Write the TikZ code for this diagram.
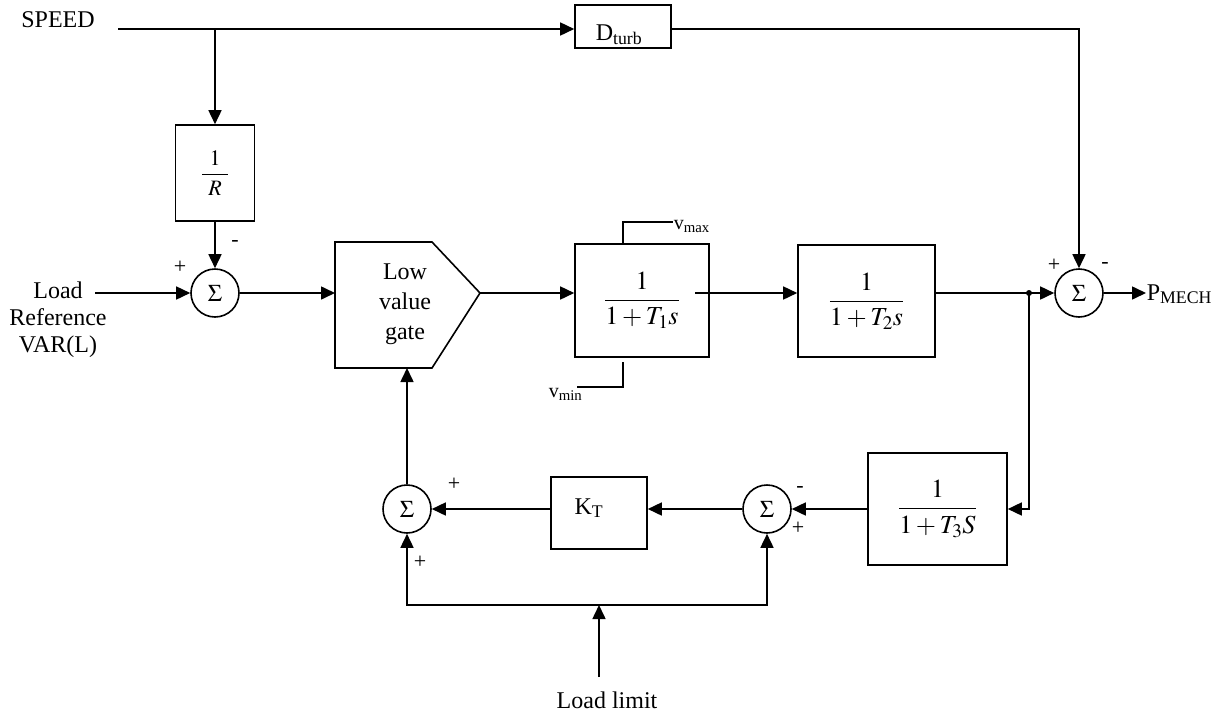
\documentclass[tikz,border=0pt]{standalone}
\usepackage{amsmath}
\usepackage{mathptmx}
\usepackage{fontspec}
\setmainfont{Liberation Serif}
\usetikzlibrary{arrows.meta,calc}

\tikzset{
  blk/.style={draw, inner sep=0pt},
  sumnode/.style={draw, circle, minimum size=48pt, inner sep=0pt, font=\fontsize{24}{24}\selectfont},
  sgn/.style={font=\fontsize{22}{22}\selectfont, inner sep=0pt},
  lbl/.style={font=\fontsize{24}{27}\selectfont, inner sep=0pt},
  lim/.style={font=\fontsize{20}{20}\selectfont, inner sep=0pt},
  tf/.style={font=\fontsize{26}{26}\selectfont}
}

\begin{document}
\begin{tikzpicture}[x=1pt, y=-1pt, line width=1.6pt, >={Triangle[length=14pt,width=13pt]}]
\useasboundingbox (0,0) rectangle (1215,715);

            % Speed input and droop.
            \node[lbl] (speed) at (58,20) {SPEED};
            \coordinate (spd-start) at (118,29);
            \coordinate (spd-tap) at (215,29);
            \node[blk, lbl, minimum width=96pt, minimum height=43pt, text height=27pt, text depth=0pt] (dturb) at (623,26.5) {D\textsubscript{turb}\hspace*{8pt}};
            \node[blk, minimum width=79pt, minimum height=96pt, font=\fontsize{22}{22}\selectfont] (invr) at (215,173) {$\dfrac{1}{\hspace{6pt}R\hspace{6pt}}$};
            \node[sumnode] (sum1) at (215,293) {$\Sigma$};
            \node[lbl, align=center] (lref) at (58,320) {Load\\Reference\\VAR(L)};
            \coordinate (lref-end) at (95,293);

            % Low value gate.
            \coordinate (gate-in) at (335,293);
            \coordinate (gate-tip) at (480,293);
            \coordinate (gate-bot) at (407,368);
            \draw (335,242) -- (432,242) -- (gate-tip) -- (432,368) -- (335,368) -- cycle;
            \node[align=center, inner sep=0pt, font=\fontsize{24}{30}\selectfont] (gate) at (405,304) {Low\\value\\gate};

            % Upper row of blocks.
            \node[blk, tf, minimum width=134pt, minimum height=113pt] (t1) at (642,300.5) {$\dfrac{1}{1+T_1s}$};
            \node[blk, tf, minimum width=137pt, minimum height=112pt] (t2) at (866.5,301) {$\dfrac{1}{1+T_2s}$};
            \node[sumnode] (sum4) at (1079,293) {$\Sigma$};
            \node[lbl, anchor=base west] (pmech) at (1146,300) {P\textsubscript{MECH}};
            \coordinate (tap) at (1029,293);
            \coordinate (t1-out) at (695,293);

            % Limits.
            \coordinate (vmax-corner) at (623,222);
            \coordinate (vmin-corner) at (623,387);
            \node[lim, anchor=base west] (vmax) at (673,229) {v\textsubscript{max}};
            \node[lim, anchor=base west] (vmin) at (548,397) {v\textsubscript{min}};
            \draw (vmax-corner |- t1.north) -- (vmax-corner) -- (vmax-corner -| vmax.west);
            \draw (623,362) -- (vmin-corner) -- (577,387);

            % Lower loop.
            \node[blk, tf, minimum width=139pt, minimum height=112pt] (t3) at (937.5,509) {$\dfrac{1}{1+T_3S}$};
            \node[sumnode] (sum3) at (767,509) {$\Sigma$};
            \node[blk, lbl, minimum width=96pt, minimum height=72pt, text height=2pt, text depth=0pt] (kt) at (599,513) {K\textsubscript{T}\hspace*{20pt}};
            \node[sumnode] (sum2) at (407,509) {$\Sigma$};
            \node[lbl] (llim) at (607,700) {Load limit};
            \coordinate (llim-top) at (599,677);
            \coordinate (ll-join) at (599,605);

            % Signs.
            \node[sgn] (s1a) at (180,267) {+};
            \node[sgn] (s1b) at (235,243) {-};
            \node[sgn] (s4a) at (1054,265) {+};
            \node[sgn] (s4b) at (1105,265) {-};
            \node[sgn] (s2a) at (454,484) {+};
            \node[sgn] (s2b) at (420,562) {+};
            \node[sgn] (s3a) at (800,489) {-};
            \node[sgn] (s3b) at (798,528) {+};

            % Signal lines.
            \draw[->] (spd-start) -- (spd-start -| dturb.west);
            \draw[->] (spd-tap) -- (invr.north);
            \draw[->] (invr.south) -- (sum1.north);
            \draw[->] (lref-end) -- (sum1.west);
            \draw[->] (sum1.east) -- (gate-in);
            \draw[->] (gate-tip) -- (gate-tip -| t1.west);
            \draw[->] (t1-out) -- (t1-out -| t2.west);
            \draw (t2.east |- tap) -- (tap);
            \fill (tap) circle (3pt);
            \draw[->] (tap) -- (sum4.west);
            \draw[->] (dturb.east |- spd-start) -| (sum4.north);
            \draw[->] (sum4.east) -- (sum4.east -| pmech.west);
            \draw[->] (tap) |- (t3.east);
            \draw[->] (t3.west) -- (sum3.east);
            \draw[->] (sum3.west) -- (sum3.west -| kt.east);
            \draw[->] (sum3.west -| kt.west) -- (sum2.east);
            \draw[->] (sum2.north) -- (gate-bot);
            \draw[->] (llim-top) -- (ll-join);
            \draw[->] (ll-join) -| (sum2.south);
            \draw[->] (ll-join) -| (sum3.south);

\end{tikzpicture}
\end{document}
